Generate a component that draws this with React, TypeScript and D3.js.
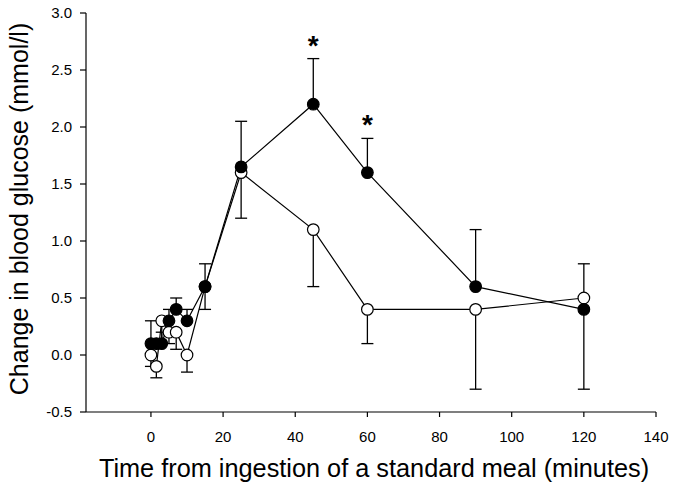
import React from "react";
import * as d3 from "d3";

const times = [0, 1.5, 3, 5, 7, 10, 15, 25, 45, 60, 90, 120];
const filledValues = [0.1, 0.1, 0.1, 0.3, 0.4, 0.3, 0.6, 1.65, 2.2, 1.6, 0.6, 0.4];
const filledErrUp = [0.2, 0, 0.1, 0.1, 0.1, 0.1, 0.2, 0.4, 0.4, 0.3, 0.5, 0];
const filledErrDown = [0, 0, 0, 0, 0, 0, 0.2, 0, 0, 0, 0, 0.7];
const openValues = [0.0, -0.1, 0.3, 0.2, 0.2, 0.0, 0.6, 1.6, 1.1, 0.4, 0.4, 0.5];
const openErrUp = [0, 0, 0, 0, 0, 0, 0, 0, 0, 0, 0, 0.3];
const openErrDown = [0.1, 0.1, 0.2, 0.1, 0.15, 0.15, 0, 0.4, 0.5, 0.3, 0.7, 0];
const significantTimes = [45, 60];
const xTicks = [0, 20, 40, 60, 80, 100, 120, 140];
const yTicks = [-0.5, 0.0, 0.5, 1.0, 1.5, 2.0, 2.5, 3.0];

const W = 679;
const H = 494;
const left = 86;
const right = 656;
const top = 13;
const bottom = 412;

export default function App() {
  const x = d3.scaleLinear().domain([-18, 140]).range([left, right]);
  const y = d3.scaleLinear().domain([-0.5, 3.0]).range([bottom, top]);
  const line = d3
    .line<[number, number]>()
    .x((d) => x(d[0]))
    .y((d) => y(d[1]));
  const font = "Liberation Sans, Arial, sans-serif";
  const capW = 6;

  const series = [
    { vals: openValues, up: openErrUp, down: openErrDown, fill: "#fff" },
    { vals: filledValues, up: filledErrUp, down: filledErrDown, fill: "#000" },
  ];

  return (
    <svg
      width={W}
      height={H}
      style={{ position: "absolute", left: 0, top: 0, background: "#fff" }}
      fontFamily={font}
    >
      {/* axes */}
      <line x1={left} x2={left} y1={top} y2={bottom} stroke="#000" strokeWidth={1.2} />
      <line x1={left} x2={right} y1={bottom} y2={bottom} stroke="#000" strokeWidth={1.2} />
      {yTicks.map((t) => (
        <g key={"y" + t}>
          <line x1={left - 6} x2={left} y1={y(t)} y2={y(t)} stroke="#000" strokeWidth={1.2} />
          <text x={left - 14} y={y(t)} dy="0.35em" textAnchor="end" fontSize={15} fill="#000">
            {t.toFixed(1)}
          </text>
        </g>
      ))}
      {xTicks.map((t) => (
        <g key={"x" + t}>
          <line x1={x(t)} x2={x(t)} y1={bottom} y2={bottom + 5} stroke="#000" strokeWidth={1.2} />
          <text x={x(t)} y={bottom + 30} textAnchor="middle" fontSize={15} fill="#000">
            {t}
          </text>
        </g>
      ))}
      <text x={374} y={477} textAnchor="middle" fontSize={25.3} fill="#000">
        Time from ingestion of a standard meal (minutes)
      </text>
      <text
        transform={`translate(28,209) rotate(-90)`}
        textAnchor="middle"
        fontSize={25}
        fill="#000"
      >
        Change in blood glucose (mmol/l)
      </text>

      {/* error bars */}
      {series.map((s, si) =>
        times.map((t, i) => {
          const v = s.vals[i];
          const els = [];
          if (s.up[i] > 0) {
            const yy = y(v + s.up[i]);
            els.push(
              <g key={`u${si}-${i}`}>
                <line x1={x(t)} x2={x(t)} y1={y(v)} y2={yy} stroke="#000" strokeWidth={1.3} />
                <line x1={x(t) - capW} x2={x(t) + capW} y1={yy} y2={yy} stroke="#000" strokeWidth={1.3} />
              </g>
            );
          }
          if (s.down[i] > 0) {
            const yy = y(v - s.down[i]);
            els.push(
              <g key={`d${si}-${i}`}>
                <line x1={x(t)} x2={x(t)} y1={y(v)} y2={yy} stroke="#000" strokeWidth={1.3} />
                <line x1={x(t) - capW} x2={x(t) + capW} y1={yy} y2={yy} stroke="#000" strokeWidth={1.3} />
              </g>
            );
          }
          return els;
        })
      )}

      {/* lines */}
      {series.map((s, si) => (
        <path
          key={"l" + si}
          d={line(times.map((t, i) => [t, s.vals[i]] as [number, number])) || ""}
          fill="none"
          stroke="#000"
          strokeWidth={1.2}
        />
      ))}

      {/* markers */}
      {series.map((s, si) =>
        times.map((t, i) => (
          <circle
            key={`m${si}-${i}`}
            cx={x(t)}
            cy={y(s.vals[i])}
            r={5.8}
            fill={s.fill}
            stroke="#000"
            strokeWidth={1.2}
          />
        ))
      )}

      {/* significance */}
      {significantTimes.map((t) => {
        const i = times.indexOf(t);
        const yy = y(filledValues[i] + filledErrUp[i]);
        return (
          <text
            key={"s" + t}
            x={x(t)}
            y={yy - 4}
            textAnchor="middle"
            fontSize={28}
            fontWeight="bold"
            fill="#000"
          >
            *
          </text>
        );
      })}
    </svg>
  );
}
